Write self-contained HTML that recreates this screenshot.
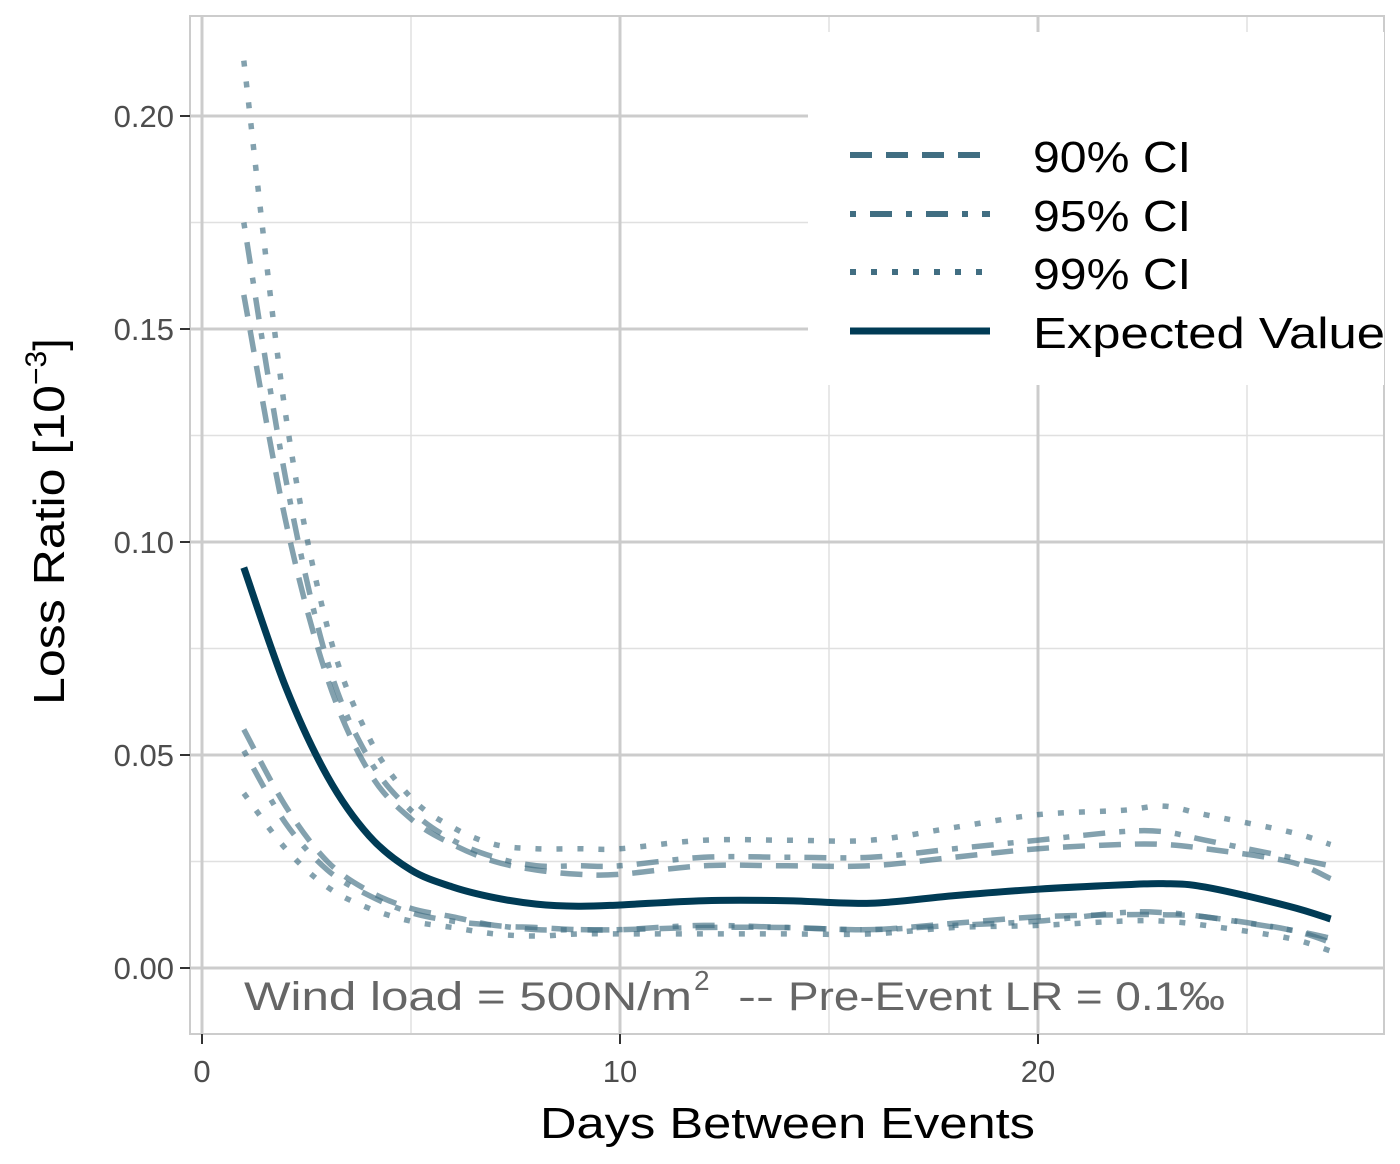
<!DOCTYPE html>
<html><head><meta charset="utf-8"><style>
body{margin:0;background:#fff;}
svg{display:block;font-family:"Liberation Sans","DejaVu Sans",sans-serif;}
</style></head><body>
<svg id="chart" width="1400" height="1164" viewBox="0 0 1400 1164">
<g id="grid"></g>
<rect x="190" y="16" width="1194" height="1018" fill="none" stroke="#cccccc" stroke-width="2"/>
<g id="series"></g>
<g fill="#666">
<text x="244" y="1010" font-size="40" textLength="448" lengthAdjust="spacingAndGlyphs">Wind load = 500N/m</text>
<text x="694" y="990" font-size="28">2</text>
<text x="738" y="1010" font-size="40" textLength="36" lengthAdjust="spacingAndGlyphs">--</text>
<text x="788" y="1010" font-size="40" textLength="437" lengthAdjust="spacingAndGlyphs">Pre-Event LR = 0.1‰</text>
</g>
<g id="axes"></g>
<text x="540" y="1138" font-size="44" textLength="495" lengthAdjust="spacingAndGlyphs" fill="#000">Days Between Events</text>
<text transform="translate(64,705) rotate(-90)" font-size="44" fill="#000"><tspan textLength="320" lengthAdjust="spacingAndGlyphs">Loss Ratio [10</tspan><tspan dy="-18" font-size="30">−3</tspan><tspan dy="18">]</tspan></text>
<g>
<rect x="808" y="32" width="576" height="353" fill="#fff"/>
<g><line x1="850" y1="155" x2="990" y2="155" stroke="#416e82" stroke-width="6" stroke-dasharray="22,14"/><text x="1033" y="172" font-size="44" textLength="158" lengthAdjust="spacingAndGlyphs">90% CI</text></g>
<g><line x1="850" y1="214" x2="990" y2="214" stroke="#416e82" stroke-width="6" stroke-dasharray="6,14,22,14"/><text x="1033" y="231" font-size="44" textLength="158" lengthAdjust="spacingAndGlyphs">95% CI</text></g>
<g><line x1="850" y1="272" x2="990" y2="272" stroke="#416e82" stroke-width="6" stroke-dasharray="6,15"/><text x="1033" y="289" font-size="44" textLength="158" lengthAdjust="spacingAndGlyphs">99% CI</text></g>
<g><line x1="850" y1="331" x2="990" y2="331" stroke="#003b55" stroke-width="7"/><text x="1033" y="348" font-size="44" textLength="352" lengthAdjust="spacingAndGlyphs">Expected Value</text></g>
</g>
</svg>
<script>
const xs=[1,2,3,4,5,6,7,8,9,10,12,14,16,18,20,22,23,24,26,27];
const expected=[0.094,0.066,0.045,0.031,0.023,0.019,0.0165,0.015,0.0145,0.0148,0.0158,0.0158,0.0152,0.017,0.0185,0.0195,0.0198,0.019,0.0145,0.0115];
const up90=[0.158,0.105,0.068,0.046,0.035,0.029,0.025,0.023,0.022,0.022,0.024,0.024,0.024,0.026,0.028,0.029,0.029,0.028,0.025,0.021];
const up95=[0.175,0.115,0.072,0.049,0.037,0.030,0.026,0.024,0.024,0.024,0.026,0.026,0.026,0.028,0.030,0.032,0.032,0.030,0.026,0.024];
const up99=[0.213,0.13,0.08,0.054,0.040,0.033,0.029,0.028,0.028,0.028,0.030,0.030,0.030,0.033,0.036,0.037,0.038,0.036,0.032,0.029];
const lo90=[0.056,0.038,0.025,0.018,0.014,0.012,0.010,0.0095,0.009,0.009,0.0095,0.0095,0.009,0.0105,0.012,0.0125,0.0125,0.012,0.009,0.006];
const lo95=[0.051,0.034,0.023,0.017,0.013,0.011,0.010,0.009,0.009,0.009,0.010,0.0095,0.009,0.010,0.011,0.013,0.013,0.012,0.009,0.007];
const lo99=[0.041,0.028,0.019,0.014,0.011,0.0095,0.008,0.0075,0.008,0.008,0.008,0.008,0.008,0.0095,0.010,0.011,0.011,0.010,0.007,0.004];
const xTicks=[0,10,20];
const yTicks=[0,0.05,0.10,0.15,0.20];
const yTickLabels=["0.00","0.05","0.10","0.15","0.20"];
const X=v=>202+v*41.8, Y=v=>968-v*4260;
const NS="http://www.w3.org/2000/svg";
function mk(tag,attrs,parent){const e=document.createElementNS(NS,tag);for(const k in attrs)e.setAttribute(k,attrs[k]);parent.appendChild(e);return e;}
const grid=document.getElementById('grid'),axes=document.getElementById('axes'),ser=document.getElementById('series');
[5,15,25].forEach(v=>{const l=mk('line',{x1:X(v),x2:X(v),y1:16,y2:1034,stroke:'#e0e0e0','stroke-width':1.5},grid);});
[0.025,0.075,0.125,0.175].forEach(v=>{const l=mk('line',{x1:190,x2:1384,y1:Y(v),y2:Y(v),stroke:'#e0e0e0','stroke-width':1.5},grid);});
xTicks.forEach(v=>{const l=mk('line',{x1:X(v),x2:X(v),y1:16,y2:1034,stroke:'#cccccc','stroke-width':3},grid);
const t=mk('line',{x1:X(v),x2:X(v),y1:1034,y2:1044,stroke:'#333','stroke-width':2},axes);
const tx=mk('text',{x:X(v),y:1082,'font-size':31,'text-anchor':'middle',fill:'#4d4d4d'},axes);tx.textContent=v;});
yTicks.forEach((v,i)=>{const l=mk('line',{x1:190,x2:1384,y1:Y(v),y2:Y(v),stroke:'#cccccc','stroke-width':3},grid);
const t=mk('line',{x1:180,x2:190,y1:Y(v),y2:Y(v),stroke:'#333','stroke-width':2},axes);
const tx=mk('text',{x:174,y:Y(v)+11,'font-size':31,'text-anchor':'end',fill:'#4d4d4d'},axes);tx.textContent=yTickLabels[i];});
function pathD(ys){const p=xs.map((x,i)=>[X(x),Y(ys[i])]);let d='M'+p[0][0]+','+p[0][1];
for(let i=0;i<p.length-1;i++){const p0=p[Math.max(0,i-1)],p1=p[i],p2=p[i+1],p3=p[Math.min(p.length-1,i+2)];
d+=' C'+(p1[0]+(p2[0]-p0[0])/6)+','+(p1[1]+(p2[1]-p0[1])/6)+' '+(p2[0]-(p3[0]-p1[0])/6)+','+(p2[1]-(p3[1]-p1[1])/6)+' '+p2[0]+','+p2[1];}return d;}
const specs=[[up90,'22,14','ci90-upper'],[lo90,'22,14','ci90-lower'],[up95,'6,14,22,14','ci95-upper'],[lo95,'6,14,22,14','ci95-lower'],[up99,'6,15','ci99-upper'],[lo99,'6,15','ci99-lower']];
specs.forEach(s=>{const e=mk('path',{d:pathD(s[0]),fill:'none',stroke:'#416e82','stroke-opacity':0.65,'stroke-width':5.5,'stroke-dasharray':s[1]},ser);

});
const ev=mk('path',{d:pathD(expected),fill:'none',stroke:'#003b55','stroke-width':7},ser);


</script>
</body></html>
